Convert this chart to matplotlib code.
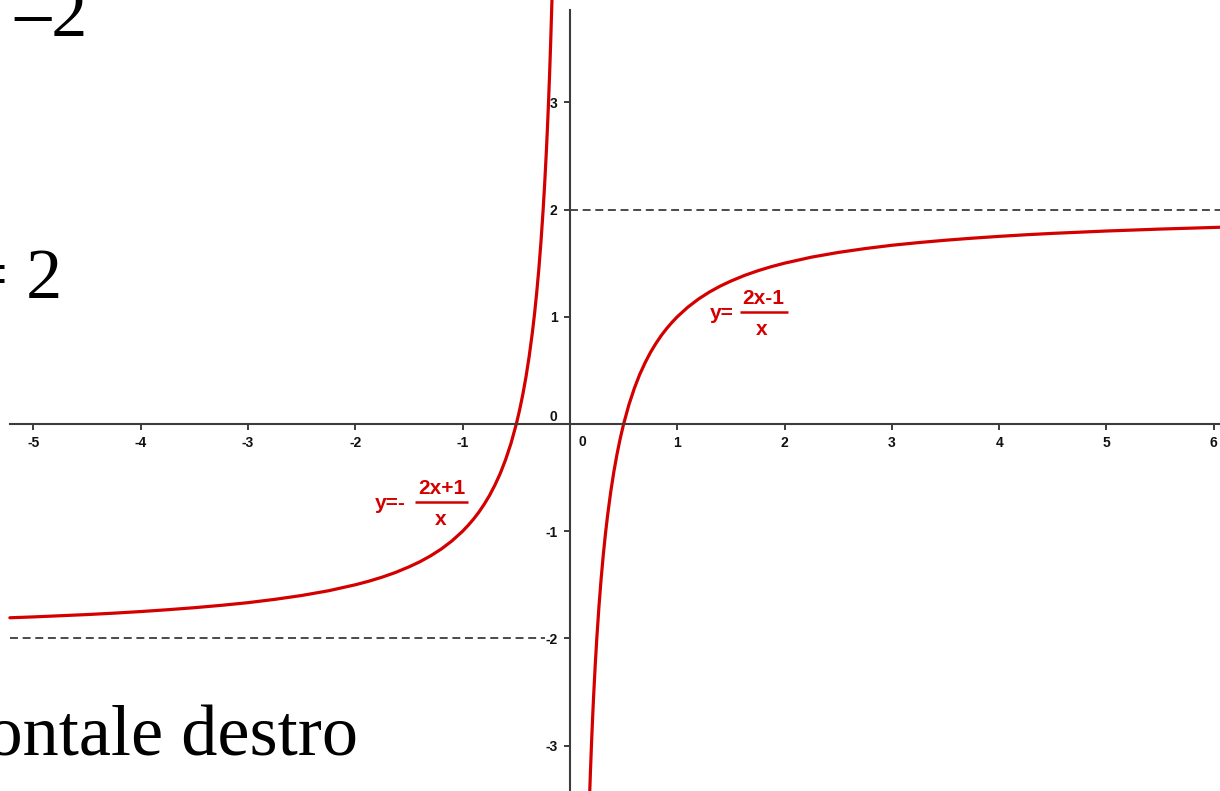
import matplotlib
matplotlib.use('Agg')
import matplotlib.pyplot as plt
from matplotlib.transforms import Affine2D

# branch for x < 0 : y = -(2x+1)/x
x_left = [-5.22, -5.0, -4.75, -4.5, -4.25, -4.0, -3.75, -3.5, -3.25, -3.0,
          -2.75, -2.5, -2.25, -2.0, -1.875, -1.75, -1.625, -1.5, -1.4, -1.3,
          -1.2, -1.1, -1.0, -0.95, -0.9, -0.85, -0.8, -0.75, -0.7, -0.65,
          -0.6, -0.55, -0.5, -0.47, -0.44, -0.41, -0.38, -0.35, -0.33, -0.31,
          -0.29, -0.27, -0.25, -0.235, -0.22, -0.21, -0.2, -0.19, -0.18, -0.168]
y_left = [-1.808, -1.8, -1.789, -1.778, -1.765, -1.75, -1.733, -1.714, -1.692, -1.667,
          -1.636, -1.6, -1.556, -1.5, -1.467, -1.429, -1.385, -1.333, -1.286, -1.231,
          -1.167, -1.091, -1.0, -0.947, -0.889, -0.824, -0.75, -0.667, -0.571, -0.462,
          -0.333, -0.182, 0.0, 0.128, 0.273, 0.439, 0.632, 0.857, 1.030, 1.226,
          1.448, 1.704, 2.0, 2.255, 2.545, 2.762, 3.0, 3.263, 3.556, 3.952]

# branch for x > 0 : y = (2x-1)/x
x_right = [0.184, 0.19, 0.2, 0.21, 0.22, 0.235, 0.25, 0.27, 0.29, 0.31,
           0.33, 0.35, 0.38, 0.41, 0.44, 0.47, 0.5, 0.55, 0.6, 0.65,
           0.7, 0.75, 0.8, 0.85, 0.9, 0.95, 1.0, 1.1, 1.2, 1.3,
           1.4, 1.5, 1.625, 1.75, 1.875, 2.0, 2.25, 2.5, 2.75, 3.0,
           3.25, 3.5, 3.75, 4.0, 4.25, 4.5, 4.75, 5.0, 5.5, 6.06]
y_right = [-3.435, -3.263, -3.0, -2.762, -2.545, -2.255, -2.0, -1.704, -1.448, -1.226,
           -1.030, -0.857, -0.632, -0.439, -0.273, -0.128, 0.0, 0.182, 0.333, 0.462,
           0.571, 0.667, 0.75, 0.824, 0.889, 0.947, 1.0, 1.091, 1.167, 1.231,
           1.286, 1.333, 1.385, 1.429, 1.467, 1.5, 1.556, 1.6, 1.636, 1.667,
           1.692, 1.714, 1.733, 1.75, 1.765, 1.778, 1.789, 1.8, 1.818, 1.835]

# horizontal asymptotes: (y, x_from, x_to)
asym_right = (2, 0.0, 6.06)
asym_left = (-2, -5.22, -0.23)

x_ticks = [-5, -4, -3, -2, -1, 1, 2, 3, 4, 5, 6]
y_ticks = [-3, -2, -1, 1, 2, 3]

# curve labels: prefix, numerator, denominator, anchor (left end, fraction bar)
label_left = ('y=-', '2x+1', 'x', (-1.817, -0.728))
label_right = ('y=', '2x-1', 'x', (1.305, 1.045))

RED = '#d40000'
AXIS = '#3c3c3c'

plt.rcParams['axes.unicode_minus'] = False

fig = plt.figure(figsize=(12.2, 7.91), dpi=100)
ax = fig.add_axes([0, 0, 1, 1])
ax.set_xlim(-5.312, 6.058)
ax.set_ylim(-3.424, 3.955)

# axes through the origin, GeoGebra style
for side in ['top', 'right']:
    ax.spines[side].set_visible(False)
ax.spines['bottom'].set_position('zero')
ax.spines['left'].set_position('zero')
ax.spines['bottom'].set_bounds(-5.22, 6.058)
ax.spines['left'].set_bounds(-3.424, 3.86)
for side in ['bottom', 'left']:
    ax.spines[side].set_color(AXIS)
    ax.spines[side].set_linewidth(1.5)

ax.set_xticks(x_ticks)
ax.set_xticklabels([str(t) for t in x_ticks])
ax.set_yticks(y_ticks)
ax.set_yticklabels([str(t) for t in y_ticks])
ax.tick_params(axis='x', direction='out', length=4, width=1.4, color=AXIS,
               pad=5, labelsize=10)
ax.tick_params(axis='y', direction='out', length=4, width=1.4, color=AXIS,
               pad=5, labelsize=10)
for lab in ax.get_xticklabels() + ax.get_yticklabels():
    lab.set_fontfamily('Liberation Sans')
    lab.set_fontweight('bold')
    lab.set_color('#111111')

# the two zero labels near the origin
ax.annotate('0', xy=(0, 0), xytext=(12, -18), textcoords='offset pixels',
            ha='center', va='center', fontsize=10, fontweight='bold',
            family='Liberation Sans', color='#111111')
ax.annotate('0', xy=(0, 0), xytext=(-17, 7), textcoords='offset pixels',
            ha='center', va='center', fontsize=10, fontweight='bold',
            family='Liberation Sans', color='#111111')

# asymptotes
for yv, x0, x1 in [asym_right, asym_left]:
    ax.plot([x0, x1], [yv, yv], color=AXIS, lw=1.3, dashes=(4.4, 2.6))

# curves
ax.plot(x_left, y_left, color=RED, lw=2.3, solid_joinstyle='round',
        solid_capstyle='round')
ax.plot(x_right, y_right, color=RED, lw=2.3, solid_joinstyle='round',
        solid_capstyle='round')

# fraction labels, pieces placed in pixel offsets from the anchor
lab_style = dict(color=RED, fontsize=15, fontweight='bold',
                 family='Liberation Sans', textcoords='offset pixels',
                 va='center')
# (numerator centre x, bar start, bar end) in pixels for each label
frac_offsets = [(67, 40, 93), (53, 30, 78)]
for (prefix, num, den, anchor), (nx, b0, b1) in zip([label_left, label_right],
                                                    frac_offsets):
    ax.annotate(prefix, xy=anchor, xytext=(0, -2), ha='left', **lab_style)
    ax.annotate(num, xy=anchor, xytext=(nx, 13), ha='center', **lab_style)
    ax.annotate(den, xy=anchor, xytext=(nx - 1, -18), ha='center', **lab_style)
    px, py = ax.transData.transform(anchor)
    ax.plot([b0, b1], [0, 0], color=RED, lw=1.8, solid_capstyle='butt',
            transform=Affine2D().translate(px, py))

# pieces of slide text around the graph
W, H = 1220.0, 791.0
serif = dict(family='Liberation Serif', fontsize=52, color='black',
             ha='right', va='baseline')
fig.text(87 / W, 1 - 36 / H, 'y = \u20132', **serif)
fig.text(62 / W, 1 - 298 / H, 'y = 2', **serif)
fig.text(358 / W, 1 - 756 / H, 'orizzontale destro', **serif)

fig.savefig('out.png', dpi=100)
